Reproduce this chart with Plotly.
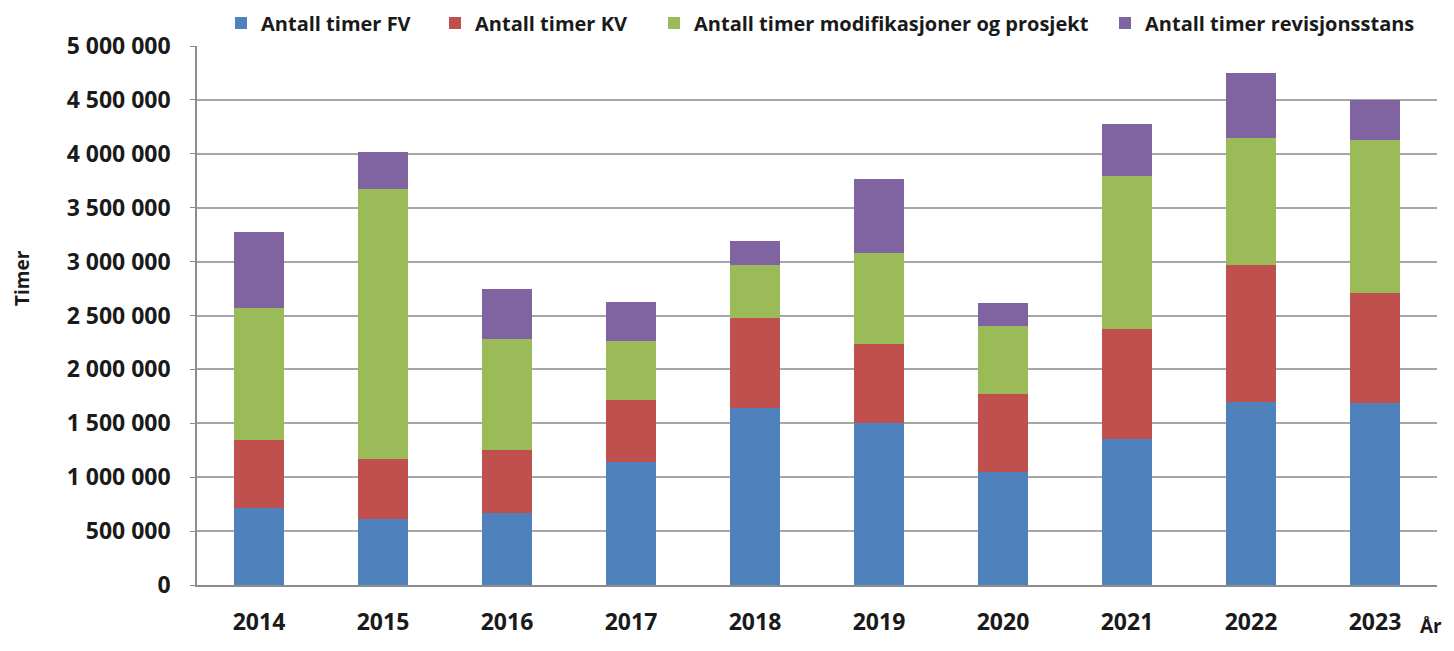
import plotly.graph_objects as go

years = ["2014", "2015", "2016", "2017", "2018", "2019", "2020", "2021", "2022", "2023"]
fv = [715000, 612000, 668000, 1141000, 1642000, 1503000, 1048000, 1354000, 1698000, 1688000]
kv = [630000, 557000, 584000, 575000, 835000, 733000, 724000, 1021000, 1270000, 1021000]
mod = [1225000, 2504000, 1030000, 547000, 491000, 844000, 631000, 1419000, 1179000, 1419000]
rev = [705000, 344000, 464000, 362000, 223000, 686000, 213000, 482000, 603000, 371000]

series_names = ["Antall timer FV", "Antall timer KV",
                "Antall timer modifikasjoner og prosjekt", "Antall timer revisjonsstans"]
colors = ["#4F81BD", "#C0504D", "#9BBB59", "#8064A2"]

tick_vals = [0, 500000, 1000000, 1500000, 2000000, 2500000, 3000000, 3500000, 4000000, 4500000, 5000000]
tick_text = ["0", "500 000", "1 000 000", "1 500 000", "2 000 000", "2 500 000",
             "3 000 000", "3 500 000", "4 000 000", "4 500 000", "5 000 000"]

# page offset from default body margin (8px each side) -> keep page inside the window
OFF = 8
W, H = 1454 - 2 * OFF, 651 - 2 * OFF
L, T = 197 - OFF, 46 - OFF
R = W - (1437 - OFF)
B = H - (585 - OFF)
plot_w = W - L - R
plot_h = H - T - B

def px_x(sx):
    return (sx - OFF - L) / plot_w

def px_y(sy):
    return (H - B - (sy - OFF)) / plot_h

legend_ids = ["legend", "legend2", "legend3", "legend4"]
legend_text_starts = [262, 476, 695, 1146]

fig = go.Figure()
for name, vals, col, lid in zip(series_names, [fv, kv, mod, rev], colors, legend_ids):
    fig.add_trace(go.Bar(x=years, y=vals, name=name, legend=lid,
                         marker=dict(color=col, line=dict(width=0))))

font_family = "Open Sans, Liberation Sans, sans-serif"
legend_common = dict(orientation="h", xanchor="left", yanchor="middle",
                     font=dict(size=20, family=font_family, weight="bold"),
                     itemsizing="constant", bgcolor="rgba(0,0,0,0)")
legends = {}
for lid, ts in zip(legend_ids, legend_text_starts):
    legends[lid] = dict(legend_common, x=px_x(ts - 41), y=px_y(23))

fig.update_layout(
    barmode="stack",
    bargap=0.6,
    width=W, height=H,
    margin=dict(l=L, r=R, t=T, b=B, autoexpand=False),
    plot_bgcolor="white", paper_bgcolor="white",
    font=dict(family=font_family, color="#1a1a1a"),
    showlegend=True,
    xaxis=dict(showgrid=False, showline=True, linecolor="#8c8c8c", linewidth=1.5,
               tickfont=dict(size=23, weight="bold"), ticks="", ticklabelstandoff=16),
    yaxis=dict(range=[0, 5000000], tickvals=tick_vals, ticktext=tick_text,
               showgrid=True, gridcolor="#a6a6a6", gridwidth=1.5,
               showline=True, linecolor="#8c8c8c", linewidth=1.5,
               ticks="outside", ticklen=5, tickcolor="#8c8c8c",
               tickfont=dict(size=23, weight="bold"), ticklabelstandoff=15,
               zeroline=False),
    annotations=[
        dict(text="Timer", x=px_x(22), y=px_y(278), xanchor="center", yanchor="middle",
             xref="paper", yref="paper", showarrow=False,
             textangle=-90, font=dict(size=19, weight="bold")),
        dict(text="År", x=px_x(1444), y=px_y(641), xref="paper", yref="paper", showarrow=False,
             xanchor="right", yanchor="bottom",
             font=dict(size=19, weight="bold")),
    ],
    **legends,
)

fig.write_html("out.html")
